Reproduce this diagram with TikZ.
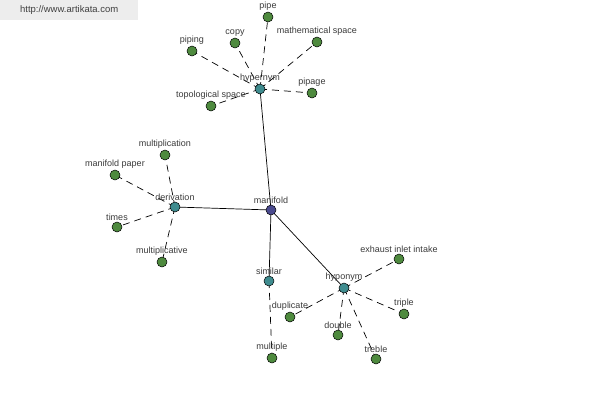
\documentclass[tikz,border=0pt]{standalone}
\usepackage{fontspec}
\setmainfont{Liberation Sans}
\usetikzlibrary{backgrounds}
\definecolor{leafc}{HTML}{4E8A3E}
\definecolor{hubc}{HTML}{3F8C8F}
\definecolor{rootc}{HTML}{4A4A8E}
\definecolor{txtc}{HTML}{3A3A3A}
\tikzset{
  dot/.style={circle,draw=black,line width=0.5pt,minimum size=10pt,inner sep=0pt,
    label={[lbl]above:#1}},
  leaf/.style={dot=#1,fill=leafc},
  hub/.style={dot=#1,fill=hubc},
  root/.style={dot=#1,fill=rootc},
  lbl/.style={font=\fontsize{9}{10}\selectfont,text=txtc,label distance=0pt,inner sep=1pt},
  solidedge/.style={draw=black,line width=0.7pt},
  dashedge/.style={draw=black,line width=0.7pt,dash pattern=on 7pt off 5pt}
}
\begin{document}
\begin{tikzpicture}[x=1pt,y=-1pt]
\useasboundingbox (0,0) rectangle (600,400);
\node[fill=black!7,minimum width=138pt,minimum height=20pt,inner sep=0pt,anchor=north west,
  font=\fontsize{9.5}{10}\selectfont,text=black!75] (wm) at (0,0) {http://www.artikata.com};
% hubs
\node[root=manifold] (manifold) at (271,210) {};
\node[hub=hypernym] (hypernym) at (260,89) {};
\node[hub=derivation] (derivation) at (175,207) {};
\node[hub=similar] (similar) at (269,281) {};
\node[hub=hyponym] (hyponym) at (344,288) {};
% leaves
\node[leaf=pipe] (pipe) at (268,17) {};
\node[leaf=copy] (copy) at (235,43) {};
\node[leaf=mathematical space] (mathsp) at (317,42) {};
\node[leaf=piping] (piping) at (192,51) {};
\node[leaf=pipage] (pipage) at (312,93) {};
\node[leaf=topological space] (topsp) at (211,106) {};
\node[leaf=multiplication] (multiplication) at (165,155) {};
\node[leaf=manifold paper] (mpaper) at (115,175) {};
\node[leaf=times] (times) at (117,227) {};
\node[leaf=multiplicative] (multiplicative) at (162,262) {};
\node[leaf=multiple] (multiple) at (272,358) {};
\node[leaf=exhaust inlet intake] (exhaust) at (399,259) {};
\node[leaf=duplicate] (duplicate) at (290,317) {};
\node[leaf=double] (double) at (338,335) {};
\node[leaf=triple] (triple) at (404,314) {};
\node[leaf=treble] (treble) at (376,359) {};
\begin{scope}[on background layer]
\draw[solidedge] (manifold.center) -- (hypernym.center);
\draw[solidedge] (manifold.center) -- (derivation.center);
\draw[solidedge] (manifold.center) -- (similar.center);
\draw[solidedge] (manifold.center) -- (hyponym.center);
\foreach \l in {pipe,copy,mathsp,piping,pipage,topsp}
  \draw[dashedge] (hypernym.center) -- (\l.center);
\foreach \l in {multiplication,mpaper,times,multiplicative}
  \draw[dashedge] (derivation.center) -- (\l.center);
\draw[dashedge] (similar.center) -- (multiple.center);
\foreach \l in {exhaust,duplicate,double,triple,treble}
  \draw[dashedge] (hyponym.center) -- (\l.center);
\end{scope}
\end{tikzpicture}
\end{document}
